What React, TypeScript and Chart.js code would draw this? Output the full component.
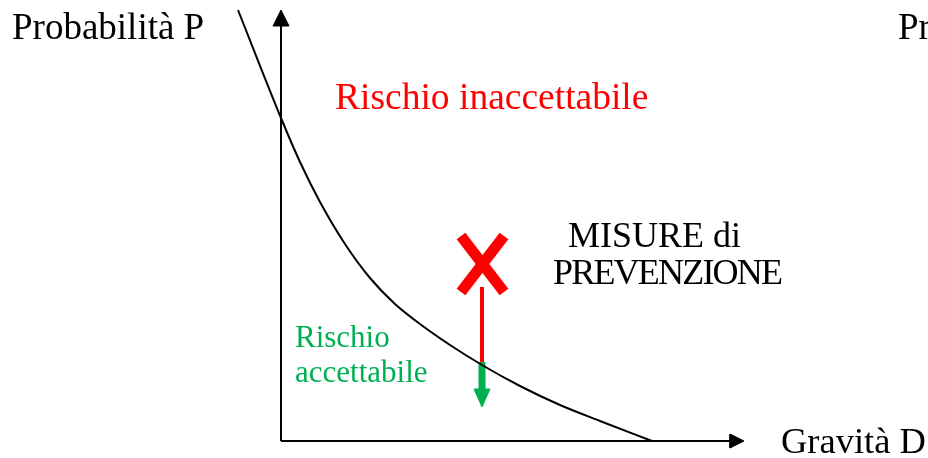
import React, { useEffect, useRef } from "react";
import { Chart, registerables } from "chart.js";

Chart.register(...registerables);

// Coordinates: gravity D (x) and probability P (y), origin at the axes' crossing.
const curveD = [-43, 0, 19, 39, 64, 89, 114, 139, 169, 201, 239, 279, 319, 371];
const curveP = [431, 323, 279, 239, 197, 163, 137, 117, 96, 76, 55, 36, 20, 0];

const yAxisD = [0, 0];
const yAxisP = [0, 415];
const yArrowD = [-8, 8, 0, -8];
const yArrowP = [415, 415, 431, 415];

const xAxisD = [0, 449];
const xAxisP = [0, 0];
const xArrowD = [449, 449, 463, 449];
const xArrowP = [7, -7, 0, 7];

// the red X marking the current risk point
const cross1D = [180, 223];
const cross1P = [205, 149];
const cross2D = [223, 180];
const cross2P = [205, 149];

// prevention measures arrow
const redArrowD = [201, 201];
const redArrowP = [154, 79];
const greenArrowD = [201, 201];
const greenArrowP = [79, 50];
const greenHeadD = [193, 209, 201, 193];
const greenHeadP = [52, 52, 34, 52];

const textLabels = [
  "Probabilità P",
  "Pr",
  "Rischio inaccettabile",
  "MISURE di",
  "PREVENZIONE",
  "Rischio",
  "accettabile",
  "Gravità D",
];

const textLayout = [
  { d: -269, p: 402, color: "#000000", size: 37, spacing: 0 },
  { d: 617, p: 402, color: "#000000", size: 37, spacing: 0 },
  { d: 54, p: 332, color: "#FF0000", size: 37.5, spacing: 0 },
  { d: 287, p: 194, color: "#000000", size: 36, spacing: 0 },
  { d: 272, p: 157, color: "#000000", size: 36, spacing: -1.8 },
  { d: 14, p: 94, color: "#00B050", size: 31, spacing: 0 },
  { d: 14, p: 59, color: "#00B050", size: 31, spacing: 0 },
  { d: 500, p: -12, color: "#000000", size: 36.5, spacing: 0 },
];

const pts = (xs: number[], ys: number[]) => xs.map((x, i) => ({ x, y: ys[i] }));

const FONT = "'Liberation Serif', 'Times New Roman', serif";

const textPlugin = {
  id: "textLabels",
  afterDatasetsDraw(chart: any) {
    const { ctx, scales } = chart;
    ctx.save();
    ctx.textAlign = "left";
    ctx.textBaseline = "alphabetic";
    textLabels.forEach((t, i) => {
      const l = textLayout[i];
      ctx.font = `${l.size}px ${FONT}`;
      ctx.fillStyle = l.color;
      (ctx as any).letterSpacing = `${l.spacing}px`;
      ctx.fillText(t, scales.x.getPixelForValue(l.d), scales.y.getPixelForValue(l.p));
    });
    (ctx as any).letterSpacing = "0px";
    ctx.restore();
  },
};

function seg(xs: number[], ys: number[], color: string, width: number, extra: any = {}) {
  return {
    data: pts(xs, ys),
    showLine: true,
    borderColor: color,
    backgroundColor: color,
    borderWidth: width,
    pointRadius: 0,
    pointHoverRadius: 0,
    borderCapStyle: "butt",
    ...extra,
  };
}

function tri(xs: number[], ys: number[], color: string) {
  return {
    data: pts(xs, ys),
    showLine: true,
    borderColor: color,
    backgroundColor: color,
    borderWidth: 1,
    pointRadius: 0,
    pointHoverRadius: 0,
    fill: "shape",
  };
}

export default function App() {
  const ref = useRef<HTMLCanvasElement | null>(null);
  useEffect(() => {
    if (!ref.current) return;
    const chart = new Chart(ref.current, {
      type: "scatter",
      data: {
        datasets: [
          seg(curveD, curveP, "#000000", 2, { cubicInterpolationMode: "monotone" }),
          seg(yAxisD, yAxisP, "#000000", 2),
          tri(yArrowD, yArrowP, "#000000"),
          seg(xAxisD, xAxisP, "#000000", 2),
          tri(xArrowD, xArrowP, "#000000"),
          seg(cross1D, cross1P, "#FF0000", 11),
          seg(cross2D, cross2P, "#FF0000", 11),
          seg(redArrowD, redArrowP, "#FF0000", 4),
          seg(greenArrowD, greenArrowP, "#00B050", 7),
          tri(greenHeadD, greenHeadP, "#00B050"),
        ] as any,
      },
      options: {
        animation: false,
        responsive: false,
        devicePixelRatio: 1,
        layout: { padding: 0 },
        plugins: {
          legend: { display: false },
          tooltip: { enabled: false },
          title: { display: false },
        },
        events: [],
        scales: {
          x: { type: "linear", min: -281, max: 647, display: false },
          y: { type: "linear", min: -17, max: 441, display: false },
        },
      } as any,
      plugins: [textPlugin],
    });
    return () => chart.destroy();
  }, []);
  return (
    <div
      style={{
        position: "fixed",
        left: 0,
        top: 0,
        width: 928,
        height: 458,
        background: "#ffffff",
      }}
    >
      <canvas ref={ref} width={928} height={458} style={{ display: "block" }} />
    </div>
  );
}
